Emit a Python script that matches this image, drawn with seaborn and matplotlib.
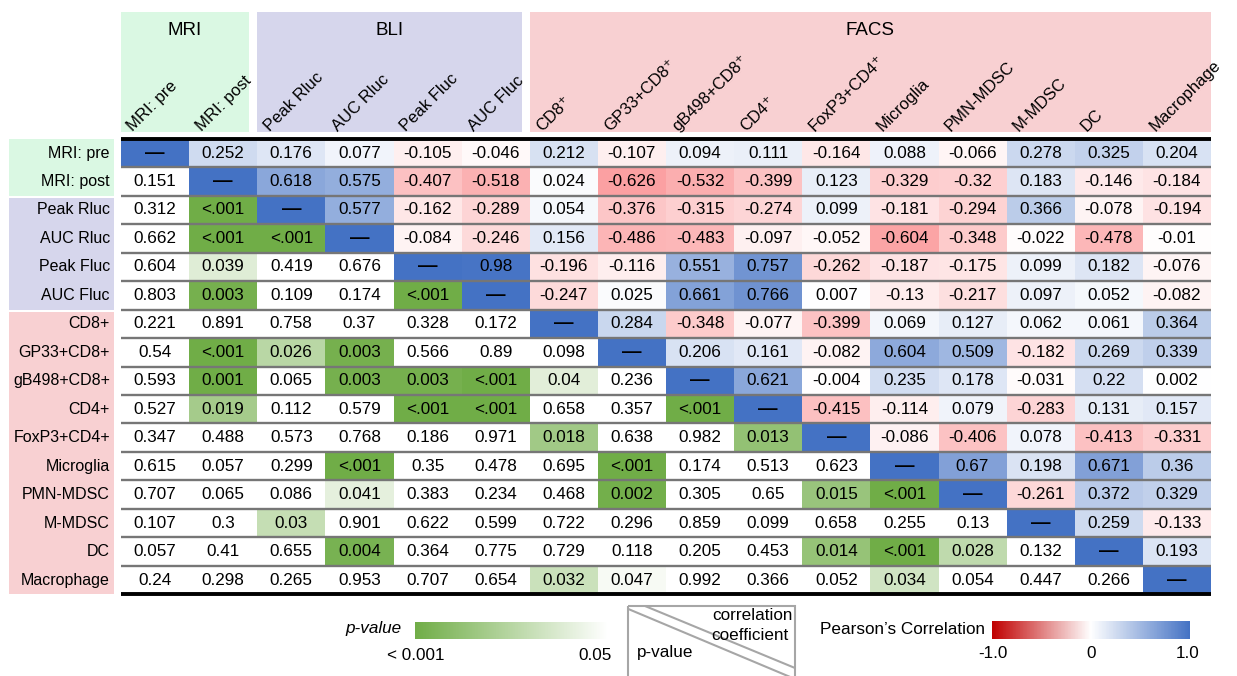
import numpy as np
import matplotlib
matplotlib.use("Agg")
import matplotlib.pyplot as plt
import seaborn as sns
from matplotlib.colors import LinearSegmentedColormap, Normalize
from matplotlib.patches import Rectangle
from matplotlib.cm import ScalarMappable

# ---------------- data ----------------
ROW_LABELS = ["MRI: pre", "MRI: post", "Peak Rluc", "AUC Rluc", "Peak Fluc", "AUC Fluc",
              "CD8+", "GP33+CD8+", "gB498+CD8+", "CD4+", "FoxP3+CD4+", "Microglia",
              "PMN-MDSC", "M-MDSC", "DC", "Macrophage"]
COL_LABELS = ["MRI: pre", "MRI: post", "Peak Rluc", "AUC Rluc", "Peak Fluc", "AUC Fluc",
              "CD8\u207a", "GP33+CD8\u207a", "gB498+CD8\u207a", "CD4\u207a", "FoxP3+CD4\u207a",
              "Microglia", "PMN-MDSC", "M-MDSC", "DC", "Macrophage"]
GROUPS = ["MRI", "BLI", "FACS"]
GROUP_SIZES = [2, 4, 10]
GROUP_COLORS = ["#DAF8E3", "#D6D6EC", "#F8D0D2"]

# upper triangle: Pearson correlation coefficients (row i, columns i+1..15)
CORR_UPPER = [
    [0.252, 0.176, 0.077, -0.105, -0.046, 0.212, -0.107, 0.094, 0.111, -0.164, 0.088, -0.066, 0.278, 0.325, 0.204],
    [0.618, 0.575, -0.407, -0.518, 0.024, -0.626, -0.532, -0.399, 0.123, -0.329, -0.32, 0.183, -0.146, -0.184],
    [0.577, -0.162, -0.289, 0.054, -0.376, -0.315, -0.274, 0.099, -0.181, -0.294, 0.366, -0.078, -0.194],
    [-0.084, -0.246, 0.156, -0.486, -0.483, -0.097, -0.052, -0.604, -0.348, -0.022, -0.478, -0.01],
    [0.98, -0.196, -0.116, 0.551, 0.757, -0.262, -0.187, -0.175, 0.099, 0.182, -0.076],
    [-0.247, 0.025, 0.661, 0.766, 0.007, -0.13, -0.217, 0.097, 0.052, -0.082],
    [0.284, -0.348, -0.077, -0.399, 0.069, 0.127, 0.062, 0.061, 0.364],
    [0.206, 0.161, -0.082, 0.604, 0.509, -0.182, 0.269, 0.339],
    [0.621, -0.004, 0.235, 0.178, -0.031, 0.22, 0.002],
    [-0.415, -0.114, 0.079, -0.283, 0.131, 0.157],
    [-0.086, -0.406, 0.078, -0.413, -0.331],
    [0.67, 0.198, 0.671, 0.36],
    [-0.261, 0.372, 0.329],
    [0.259, -0.133],
    [0.193],
]

LT = "<.001"
# lower triangle: p-values (row i, columns 0..i-1)
P_LOWER = [
    [0.151],
    [0.312, LT],
    [0.662, LT, LT],
    [0.604, 0.039, 0.419, 0.676],
    [0.803, 0.003, 0.109, 0.174, LT],
    [0.221, 0.891, 0.758, 0.37, 0.328, 0.172],
    [0.54, LT, 0.026, 0.003, 0.566, 0.89, 0.098],
    [0.593, 0.001, 0.065, 0.003, 0.003, LT, 0.04, 0.236],
    [0.527, 0.019, 0.112, 0.579, LT, LT, 0.658, 0.357, LT],
    [0.347, 0.488, 0.573, 0.768, 0.186, 0.971, 0.018, 0.638, 0.982, 0.013],
    [0.615, 0.057, 0.299, LT, 0.35, 0.478, 0.695, LT, 0.174, 0.513, 0.623],
    [0.707, 0.065, 0.086, 0.041, 0.383, 0.234, 0.468, 0.002, 0.305, 0.65, 0.015, LT],
    [0.107, 0.3, 0.03, 0.901, 0.622, 0.599, 0.722, 0.296, 0.859, 0.099, 0.658, 0.255, 0.13],
    [0.057, 0.41, 0.655, 0.004, 0.364, 0.775, 0.729, 0.118, 0.205, 0.453, 0.014, LT, 0.028, 0.132],
    [0.24, 0.298, 0.265, 0.953, 0.707, 0.654, 0.032, 0.047, 0.992, 0.366, 0.052, 0.034, 0.054, 0.447, 0.266],
]

# ---------------- build matrices ----------------
N = len(ROW_LABELS)
corr = np.full((N, N), np.nan)
pval = np.full((N, N), np.nan)
annot_c = np.full((N, N), "", dtype=object)
annot_p = np.full((N, N), "", dtype=object)
for i in range(N):
    corr[i, i] = 1.0
    annot_c[i, i] = "\u2014"
for i, row in enumerate(CORR_UPPER):
    for k, v in enumerate(row):
        j = i + 1 + k
        corr[i, j] = v
        annot_c[i, j] = f"{v:g}"
for r, row in enumerate(P_LOWER):
    i = r + 1
    for j, v in enumerate(row):
        if v == LT:
            pval[i, j] = 0.001
            annot_p[i, j] = "<.001"
        else:
            pval[i, j] = v
            annot_p[i, j] = f"{v:g}"

jj, ii = np.meshgrid(np.arange(N), np.arange(N))
mask_corr = jj < ii
mask_p = jj >= ii

# ---------------- style ----------------
sns.set_style("white")
plt.rcParams["font.family"] = ["Liberation Sans", "DejaVu Sans"]
plt.rcParams["text.color"] = "black"
plt.rcParams["xtick.color"] = "black"
plt.rcParams["ytick.color"] = "black"
plt.rcParams["xtick.labelcolor"] = "black"
plt.rcParams["ytick.labelcolor"] = "black"

corr_cmap = LinearSegmentedColormap.from_list("corr", ["#F8696B", "#FFFFFF", "#4472C4"])
p_cmap = LinearSegmentedColormap.from_list("pv", ["#70AD47", "#FFFFFF"]).with_extremes(
    over="#FFFFFF", under="#70AD47")
legend_corr_cmap = LinearSegmentedColormap.from_list("lc", ["#C00000", "#FFFFFF", "#4472C4"])

W, H = 1237, 676
fig = plt.figure(figsize=(W / 100, H / 100), dpi=100)
ax = fig.add_axes([121 / W, 1 - 594.3 / H, 1090 / W, 455.5 / H])

akw = {"fontsize": 12.3, "color": "black"}
sns.heatmap(corr, mask=mask_corr, cmap=corr_cmap, vmin=-1, vmax=1, annot=annot_c, fmt="",
            annot_kws=akw, cbar=False, linewidths=0, ax=ax)
sns.heatmap(pval, mask=mask_p, cmap=p_cmap, vmin=0.001, vmax=0.05, annot=annot_p, fmt="",
            annot_kws=akw, cbar=False, linewidths=0, ax=ax)
for t in ax.texts:
    if t.get_text() == "\u2014":
        t.set_fontweight("bold")
        t.set_fontsize(14)

ax.set_xlim(0, N)
ax.set_ylim(N, 0)

# row separators
ax.hlines(np.arange(1, N), 0, N, colors="#767676", linewidth=1.7, zorder=3)
ax.hlines([0, N], 0, N, colors="black", linewidth=2.8, zorder=4, clip_on=False)

# row labels
ax.set_yticks(np.arange(N) + 0.5)
ax.set_yticklabels(ROW_LABELS, fontsize=11.5, rotation=0, color="black")
ax.tick_params(axis="y", length=0, pad=8)

# column labels on top
ax.xaxis.tick_top()
ax.set_xticks(np.arange(N) + 0.18)
ax.set_xticklabels(COL_LABELS, fontsize=12, rotation=45, ha="left", va="baseline",
                   rotation_mode="anchor", color="black")
ax.tick_params(axis="x", length=0, pad=5)
ax.set_xlabel("")
ax.set_ylabel("")

# group boxes (header and row side)
start = 0
for name, size, col in zip(GROUPS, GROUP_SIZES, GROUP_COLORS):
    end = start + size
    x1 = end - (0.12 if end < N else 0)
    ax.add_patch(Rectangle((start, -4.46), x1 - start, 4.22, facecolor=col, edgecolor="none",
                           clip_on=False, zorder=0.5))
    ax.text((start + x1) / 2, -3.82, name, ha="center", va="center", fontsize=13.5,
            clip_on=False, color="black")
    y0 = start + (0.09 if start > 0 else 0)
    ax.add_patch(Rectangle((-1.65, y0), 1.55, end - y0, facecolor=col, edgecolor="none",
                           clip_on=False, zorder=0.5))
    start = end

# ---------------- legends ----------------
ov = fig.add_axes([0, 0, 1, 1])
ov.set_xlim(0, W)
ov.set_ylim(H, 0)
ov.axis("off")

FS = 12.3
ov.text(402, 629, "p-value", ha="right", va="center", fontsize=FS, style="italic")
ov.text(416, 655, "< 0.001", ha="center", va="center", fontsize=FS)
ov.text(612, 655, "0.05", ha="right", va="center", fontsize=FS)

gax = fig.add_axes([415 / W, 1 - 639.3 / H, 193 / W, 17.6 / H])
gcb = fig.colorbar(ScalarMappable(norm=Normalize(0.001, 0.05), cmap=p_cmap), cax=gax,
                   orientation="horizontal")
gcb.outline.set_visible(False)
gcb.set_ticks([])

# explanation box
ov.add_patch(Rectangle((628.3, 606), 166.7, 120, facecolor="none", edgecolor="#A6A6A6",
                       linewidth=1.5, clip_on=True))
ov.plot([645, 795], [606, 668], color="#A6A6A6", linewidth=1.5)
ov.plot([628.3, 795], [609, 679], color="#A6A6A6", linewidth=1.5)
ov.text(793, 616, "correlation", ha="right", va="center", fontsize=FS)
ov.text(789, 635, "coefficient", ha="right", va="center", fontsize=FS)
ov.text(637, 653, "p-value", ha="left", va="center", fontsize=FS)

# Pearson legend
ov.text(985, 630, "Pearson\u2019s Correlation", ha="right", va="center", fontsize=FS)
cax = fig.add_axes([991.7 / W, 1 - 639 / H, 198.3 / W, 18 / H])
ccb = fig.colorbar(ScalarMappable(norm=Normalize(-1, 1), cmap=legend_corr_cmap), cax=cax,
                   orientation="horizontal")
ccb.outline.set_visible(False)
ccb.set_ticks([])
ov.text(993, 654, "-1.0", ha="center", va="center", fontsize=FS)
ov.text(1091, 654, "0", ha="center", va="center", fontsize=FS)
ov.text(1188, 654, "1.0", ha="center", va="center", fontsize=FS)

fig.savefig("out.png", dpi=100)
